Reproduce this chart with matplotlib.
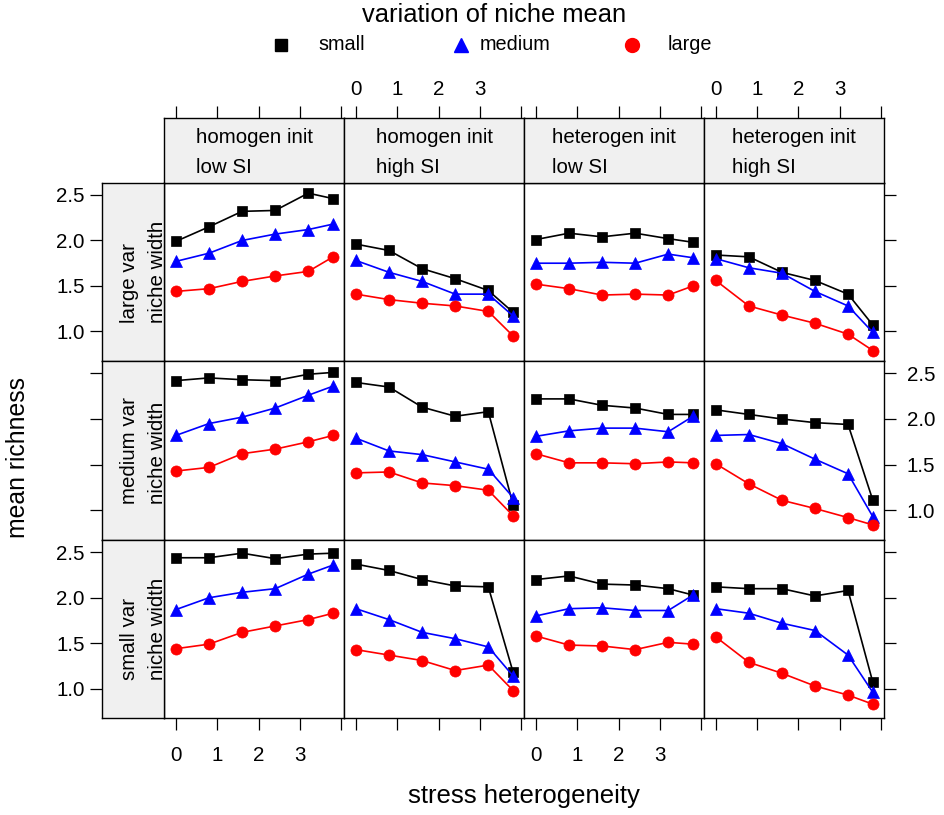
import matplotlib
matplotlib.use('Agg')
import matplotlib.pyplot as plt

plt.rcParams['font.family'] = ['Liberation Sans', 'DejaVu Sans']

# ---------------- data ----------------
stress = [0, 0.8, 1.6, 2.4, 3.2, 3.8]
col_labels = ["homogen init\nlow SI", "homogen init\nhigh SI",
              "heterogen init\nlow SI", "heterogen init\nhigh SI"]
row_labels = ["large var\nniche width", "medium var\nniche width",
              "small var\nniche width"]
series_names = ["small", "medium", "large"]
x_ticks = [0, 1, 2, 3, 4]
x_ticklabels = ["0", "1", "2", "3", ""]
y_ticks = [1.0, 1.5, 2.0, 2.5]
y_ticklabels = ["1.0", "1.5", "2.0", "2.5"]

# mean richness, [row][col] -> values along stress
small_mean = [
    [[1.99, 2.15, 2.32, 2.33, 2.52, 2.46], [1.96, 1.89, 1.69, 1.58, 1.45, 1.21],
     [2.01, 2.08, 2.04, 2.08, 2.02, 1.98], [1.84, 1.82, 1.65, 1.56, 1.41, 1.07]],
    [[2.42, 2.45, 2.43, 2.42, 2.49, 2.51], [2.40, 2.35, 2.13, 2.03, 2.08, 1.06],
     [2.22, 2.22, 2.15, 2.12, 2.05, 2.05], [2.10, 2.05, 2.00, 1.96, 1.94, 1.11]],
    [[2.44, 2.44, 2.49, 2.43, 2.48, 2.49], [2.37, 2.30, 2.20, 2.13, 2.12, 1.18],
     [2.20, 2.24, 2.15, 2.14, 2.10, 2.03], [2.12, 2.10, 2.10, 2.02, 2.08, 1.07]],
]
medium_mean = [
    [[1.77, 1.86, 2.00, 2.07, 2.12, 2.18], [1.78, 1.65, 1.55, 1.41, 1.41, 1.17],
     [1.75, 1.75, 1.76, 1.75, 1.85, 1.81], [1.80, 1.70, 1.64, 1.44, 1.28, 0.99]],
    [[1.82, 1.95, 2.02, 2.12, 2.26, 2.36], [1.79, 1.65, 1.61, 1.53, 1.45, 1.14],
     [1.81, 1.87, 1.90, 1.90, 1.86, 2.03], [1.82, 1.83, 1.73, 1.56, 1.40, 0.93]],
    [[1.87, 2.00, 2.06, 2.10, 2.26, 2.36], [1.88, 1.76, 1.62, 1.55, 1.46, 1.14],
     [1.80, 1.88, 1.89, 1.86, 1.86, 2.03], [1.88, 1.83, 1.72, 1.64, 1.37, 0.96]],
]
large_mean = [
    [[1.44, 1.47, 1.55, 1.61, 1.66, 1.82], [1.41, 1.35, 1.31, 1.28, 1.22, 0.95],
     [1.52, 1.47, 1.40, 1.41, 1.40, 1.50], [1.56, 1.28, 1.18, 1.09, 0.97, 0.79]],
    [[1.43, 1.47, 1.62, 1.67, 1.75, 1.82], [1.41, 1.42, 1.30, 1.27, 1.22, 0.94],
     [1.62, 1.52, 1.52, 1.51, 1.53, 1.52], [1.51, 1.29, 1.11, 1.02, 0.92, 0.84]],
    [[1.44, 1.49, 1.62, 1.69, 1.76, 1.83], [1.43, 1.37, 1.31, 1.20, 1.26, 0.98],
     [1.58, 1.48, 1.47, 1.43, 1.51, 1.49], [1.57, 1.29, 1.17, 1.03, 0.93, 0.83]],
]

# ---------------- layout ----------------
W, H = 944, 815
fig = plt.figure(figsize=(W / 100, H / 100), dpi=100)


def rect(x0, y0, x1, y1):
    return [x0 / W, 1 - y1 / H, (x1 - x0) / W, (y1 - y0) / H]


col_edges = [164.3, 344.3, 524.3, 704.2, 884.0]
row_edges = [182.7, 361.0, 540.0, 718.3]
strip_top = 118
strip_left = 102
XLIM = (-0.28, 4.07)
YLIM = (0.675, 2.635)
STRIP_BG = '#f0f0f0'
FS = 14.8
TL = 8.4
LW_BOX = 1.0

styles = [
    dict(color='black', marker='s', ms=6.6),
    dict(color='#0000ff', marker='^', ms=8.6),
    dict(color='#ff0000', marker='o', ms=8.0),
]
series = [small_mean, medium_mean, large_mean]


def box(ax):
    for s in ax.spines.values():
        s.set_linewidth(LW_BOX)
        s.set_color('black')


for i in range(3):
    for j in range(4):
        ax = fig.add_axes(rect(col_edges[j], row_edges[i], col_edges[j + 1], row_edges[i + 1]))
        ax.set_xlim(*XLIM)
        ax.set_ylim(*YLIM)
        box(ax)
        for vals, st in zip(series, styles):
            ax.plot(stress, vals[i][j], color=st['color'], lw=1.2,
                    marker=st['marker'], ms=st['ms'], mfc=st['color'], mec=st['color'], mew=0.5,
                    clip_on=False)
        ax.set_xticks(x_ticks)
        ax.set_yticks(y_ticks)
        if i == 2:
            ax.set_xticklabels(x_ticklabels if j in (0, 2) else [""] * 5)
            ax.tick_params(axis='x', bottom=True, top=False, direction='out',
                           length=TL, width=0.9, pad=11.5, labelsize=FS)
        else:
            ax.tick_params(axis='x', bottom=False, top=False, labelbottom=False)
        if j == 3:
            ax.yaxis.tick_right()
            ax.set_yticklabels(y_ticklabels if i == 1 else [""] * 4)
            ax.tick_params(axis='y', right=True, left=False, direction='out',
                           length=TL, width=0.9, pad=8, labelsize=FS)
        else:
            ax.tick_params(axis='y', left=False, right=False, labelleft=False)

# top strips
for j in range(4):
    sax = fig.add_axes(rect(col_edges[j], strip_top, col_edges[j + 1], row_edges[0]))
    sax.set_facecolor(STRIP_BG)
    sax.set_xlim(*XLIM)
    sax.set_ylim(0, 1)
    box(sax)
    sax.set_yticks([])
    sax.xaxis.tick_top()
    sax.set_xticks(x_ticks)
    sax.set_xticklabels(x_ticklabels if j in (1, 3) else [""] * 5)
    sax.tick_params(axis='x', top=True, bottom=False, direction='out',
                    length=TL, width=0.9, pad=5.5, labelsize=FS)
    sax.text(0.5, 0.47, col_labels[j], transform=sax.transAxes, ha='center', va='center',
             multialignment='left', fontsize=FS, linespacing=1.75)

# left strips
for i in range(3):
    lax = fig.add_axes(rect(strip_left, row_edges[i], col_edges[0], row_edges[i + 1]))
    lax.set_facecolor(STRIP_BG)
    lax.set_ylim(*YLIM)
    lax.set_xlim(0, 1)
    box(lax)
    lax.set_xticks([])
    lax.set_yticks(y_ticks)
    lax.set_yticklabels(y_ticklabels if i in (0, 2) else [""] * 4)
    lax.tick_params(axis='y', left=True, right=False, direction='out',
                    length=TL, width=0.9, pad=4, labelsize=FS)
    lax.text(0.66, 0.5, row_labels[i], transform=lax.transAxes, ha='center', va='center',
             rotation=90, multialignment='left', fontsize=FS, linespacing=1.6)

# axis titles
fig.text(524 / W, 1 - 796 / H, "stress heterogeneity", ha='center', va='center', fontsize=18.5)
fig.text(18 / W, 1 - 458 / H, "mean richness", ha='center', va='center', rotation=90, fontsize=17.8)
fig.text(494 / W, 1 - 15 / H, "variation of niche mean", ha='center', va='center', fontsize=18.4)

# legend (key)
kax = fig.add_axes([0, 0, 1, 1])
kax.set_xlim(0, W)
kax.set_ylim(H, 0)
kax.axis('off')
key_marker_x = [281, 461, 632]
key_text_x = [318, 480, 668]
key_ms = [8.0, 10.5, 10.0]
for name, st, mx, tx, ms in zip(series_names, styles, key_marker_x, key_text_x, key_ms):
    kax.plot([mx], [45], linestyle='none', marker=st['marker'], ms=ms,
             mfc=st['color'], mec=st['color'])
    kax.text(tx, 45, name, ha='left', va='center', fontsize=14.3)

fig.savefig('out.png', dpi=100)
